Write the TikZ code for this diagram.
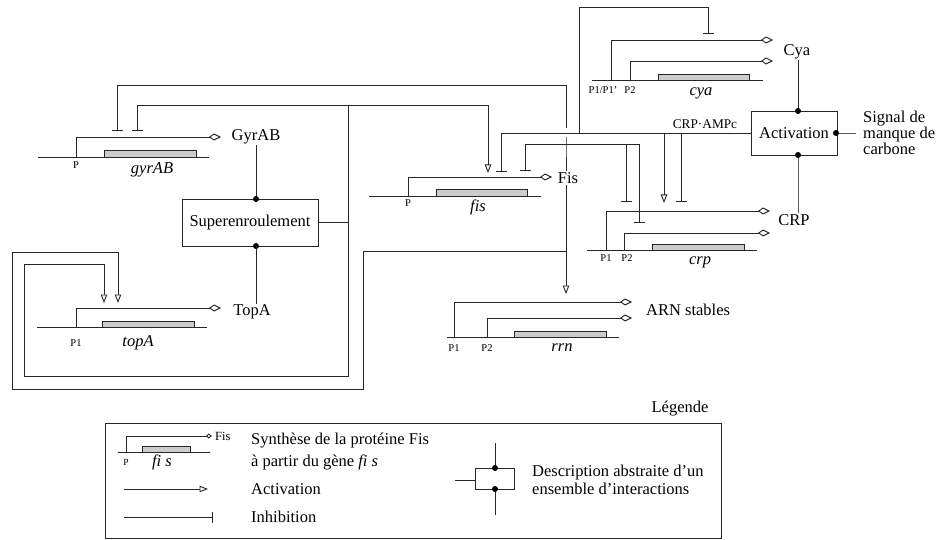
\documentclass[tikz,border=0pt]{standalone}
\usepackage{fontspec}
\setmainfont{Liberation Serif}
\usetikzlibrary{arrows.meta}
\begin{document}
\begin{tikzpicture}[x=1pt,y=-1pt,
  ln/.style={line width=0.9pt, draw=black!85},
  trans/.style={ln, -{Kite[fill=white,length=12pt,width=7pt,inset=5pt]}},
  transsm/.style={ln, -{Kite[fill=white,length=6pt,width=5pt,inset=2.5pt]}},
  act/.style={ln, -{Triangle[fill=white,length=8.5pt,width=6.5pt]}},
  inh/.style={ln, -{Bar[width=11pt]}},
  genebar/.style={ln, fill=black!20},
  lbl/.style={font=\fontsize{16.5}{18}\selectfont, inner sep=1pt},
  small/.style={font=\fontsize{10.5}{12}\selectfont, inner sep=0pt},
  tiny/.style={font=\fontsize{9.5}{11}\selectfont, inner sep=0pt},
  glbl/.style={font=\fontsize{16.5}{18}\selectfont\itshape, inner sep=0pt},
  boxnode/.style={ln, draw, font=\fontsize{16.5}{18}\selectfont, inner sep=0pt},
  dotfill/.style={fill=black}
]
\useasboundingbox (0,0) rectangle (937,540);

% ---------------- gyrAB
\draw[ln] (38,157) coordinate (gyrL) -- (209,157) coordinate (gyrR);
\draw[genebar] (104,150) rectangle (196,157);
\draw[trans] (76,157) coordinate (gyrP) -- (76,137) -- (221,137) coordinate (gyrT);
\node[small] (gyrPl) at (76,165) {P};
\node[glbl] (gyrl) at (152,170) {gyrAB};
\node[lbl] (GyrAB) at (256,137) {GyrAB};

% ---------------- Superenroulement
\node[boxnode, minimum width=136pt, minimum height=47pt] (sup) at (250,222.5) {Superenroulement};
\coordinate (supN) at (256,199);
\coordinate (supS) at (256,246);
\draw[ln] (GyrAB.south -| supN) -- (supN);
\fill[dotfill] (supN) circle (3pt);
\fill[dotfill] (supS) circle (3pt);

% ---------------- topA
\draw[ln] (37,327) coordinate (topL) -- (207,327) coordinate (topR);
\draw[genebar] (102,321) rectangle (194,327);
\draw[trans] (76,327) coordinate (topP) -- (76,308) -- (221,308) coordinate (topT);
\node[small] (topPl) at (76,343) {P1};
\node[glbl] (topl) at (138,343) {topA};
\node[lbl] (TopA) at (252,312) {TopA};
\draw[ln] (supS) -- (supS |- TopA.north);

% ---------------- fis
\draw[ln] (369,196) coordinate (fisL) -- (541,196) coordinate (fisR);
\draw[genebar] (436,189) rectangle (527,196);
\draw[trans] (408,196) coordinate (fisP) -- (408,177) -- (552,177) coordinate (fisT);
\node[small] (fisPl) at (408,203) {P};
\node[glbl] (fisl) at (478,207) {fis};
\node[lbl] (Fis) at (568,178) {Fis};

% ---------------- rrn
\draw[ln] (447,337) coordinate (rrnL) -- (619,337) coordinate (rrnR);
\draw[genebar] (514,331) rectangle (606,337);
\draw[trans] (454,337) coordinate (rrnP1) -- (454,302) -- (632,302) coordinate (rrnT1);
\draw[trans] (487,337) coordinate (rrnP2) -- (487,318) -- (632,318) coordinate (rrnT2);
\node[small] (rrnP1l) at (454,348) {P1};
\node[small] (rrnP2l) at (487,348) {P2};
\node[glbl] (rrnl) at (562,348) {rrn};
\node[lbl, anchor=west] (ARN) at (645,310) {ARN stables};

% ---------------- cya
\draw[ln] (592,80) coordinate (cyaL) -- (763,80) coordinate (cyaR);
\draw[genebar] (658,74) rectangle (749,80);
\draw[trans] (611,80) coordinate (cyaP1) -- (611,40) -- (773,40) coordinate (cyaT1);
\draw[trans] (630,80) coordinate (cyaP2) -- (630,61) -- (773,61) coordinate (cyaT2);
\node[small] (cyaP1l) at (603,90) {P1/P1’};
\node[small] (cyaP2l) at (630,90) {P2};
\node[glbl] (cyal) at (701,93) {cya};
\node[lbl] (Cya) at (797,52) {Cya};

% ---------------- crp
\draw[ln] (587,250) coordinate (crpL) -- (757,250) coordinate (crpR);
\draw[genebar] (652,244) rectangle (744,250);
\draw[trans] (606,250) coordinate (crpP1) -- (606,211) -- (770,211) coordinate (crpT1);
\draw[trans] (624,250) coordinate (crpP2) -- (624,233) -- (770,233) coordinate (crpT2);
\node[small] (crpP1l) at (606,258) {P1};
\node[small] (crpP2l) at (627,258) {P2};
\node[glbl] (crpl) at (700,262) {crp};
\node[lbl] (CRP) at (794,220) {CRP};

% ---------------- Activation
\node[boxnode, minimum width=86pt, minimum height=44pt] (actb) at (794,133) {Activation};
\coordinate (actN) at (798,111);
\coordinate (actS) at (798,155);
\coordinate (actE) at (836,133);
\draw[ln] (Cya.south -| actN) -- (actN);
\draw[ln, draw=black!65] (actS) -- (actS |- CRP.north);
\draw[ln, draw=black!65] (actE) -- (856,133) coordinate (sigE);
\fill[dotfill] (actN) circle (3pt);
\fill[dotfill] (actS) circle (3pt);
\fill[dotfill] (actE) circle (3pt);
\node[font=\fontsize{16.5}{14.5}\selectfont, inner sep=0pt, anchor=west, align=left] (sig) at (863,133) {Signal de\\manque de\\carbone};

% ---------------- CRP-AMPc regulations
\node[font=\fontsize{13.3}{15}\selectfont, inner sep=0pt] (camp) at (705,124) {CRP·AMPc};
\coordinate (cW) at (751,133);
\draw[inh] (cW) -- (501,133) -- (501,172);
\draw[inh] (579,133) coordinate (cCya) -- (579,7) -- (708,7) -- (708,34);
\draw[act] (664,133) coordinate (cCrp1) -- (664,203);
\draw[inh] (681,133) coordinate (cCrp2) -- (681,202);

% ---------------- Fis regulations
\coordinate (fA) at (566,85);
\coordinate (fB) at (566,144);
\coordinate (fC) at (566,251);
\coordinate (fD) at (566,294);
\draw[ln] (fA) -- (566,128.5);
\draw[ln] (566,137) -- (fB) -- (fB |- Fis.north);
\draw[act] (Fis.south -| fA) -- (fD);
\draw[inh] (fA) -- (117,85) -- (117,131);
\draw[act] (fC) -- (363,251) -- (363,389) -- (12,389) -- (12,252) -- (118,252) -- (118,303);
\draw[inh] (fB) -- (525,144) -- (525,171);
\draw[ln] (fB) -- (639,144) coordinate (fE);
\draw[inh] (626,144) coordinate (fF) -- (626,202);
\draw[inh] (fE) -- (639,223);

% ---------------- Superenroulement regulations
\coordinate (sJ) at (348,222.5);
\coordinate (sT) at (348,105);
\draw[ln] (sup.east) -- (sJ);
\draw[inh] (sJ) -- (sT) -- (137,105) -- (137,131);
\draw[act] (sT) -- (488,105) -- (488,173);
\draw[act] (sJ) -- (348,376) -- (24,376) -- (24,264) -- (104,264) -- (104,303);

% ---------------- Legend
\node[lbl] (leg) at (680,409) {Légende};
\draw[ln] (105,423) rectangle (721,538);
\draw[ln] (118,452) coordinate (lgL) -- (210,452) coordinate (lgR);
\draw[genebar] (142,446) rectangle (190,452);
\draw[transsm] (126,452) coordinate (lgP) -- (126,436) -- (212,436) coordinate (lgT);
\node[font=\fontsize{12.5}{14}\selectfont, inner sep=0pt, anchor=west] (lgFis) at (215,436) {Fis};
\node[tiny] (lgPl) at (126,462) {P};
\node[glbl] (lgfis) at (162,462) {fi s};
\node[lbl, anchor=west, inner sep=0pt] (lt1) at (251,441) {Synthèse de la protéine Fis};
\node[lbl, anchor=west, inner sep=0pt] (lt2) at (251,462) {à partir du gène \textit{fi s}};
\draw[act] (124,489) coordinate (laL) -- (208,489) coordinate (laR);
\node[lbl, anchor=west, inner sep=0pt] (lt3) at (251,489) {Activation};
\draw[inh] (124,517) coordinate (liL) -- (213,517) coordinate (liR);
\node[lbl, anchor=west, inner sep=0pt] (lt4) at (251,517) {Inhibition};
\node[ln, draw, minimum width=39pt, minimum height=21pt, inner sep=0pt] (absb) at (494.5,478.5) {};
\coordinate (abN) at (495,468);
\coordinate (abS) at (495,489);
\draw[ln] (495,443) coordinate (abT) -- (abN);
\draw[ln] (abS) -- (495,515) coordinate (abB);
\draw[ln] (455,480) coordinate (abW) -- (absb.west |- abW);
\fill[dotfill] (abN) circle (3pt);
\fill[dotfill] (abS) circle (3pt);
\node[lbl, anchor=west, inner sep=0pt] (lt5) at (532,473) {Description abstraite d’un};
\node[lbl, anchor=west, inner sep=0pt] (lt6) at (532,489) {ensemble d’interactions};
\end{tikzpicture}
\end{document}
